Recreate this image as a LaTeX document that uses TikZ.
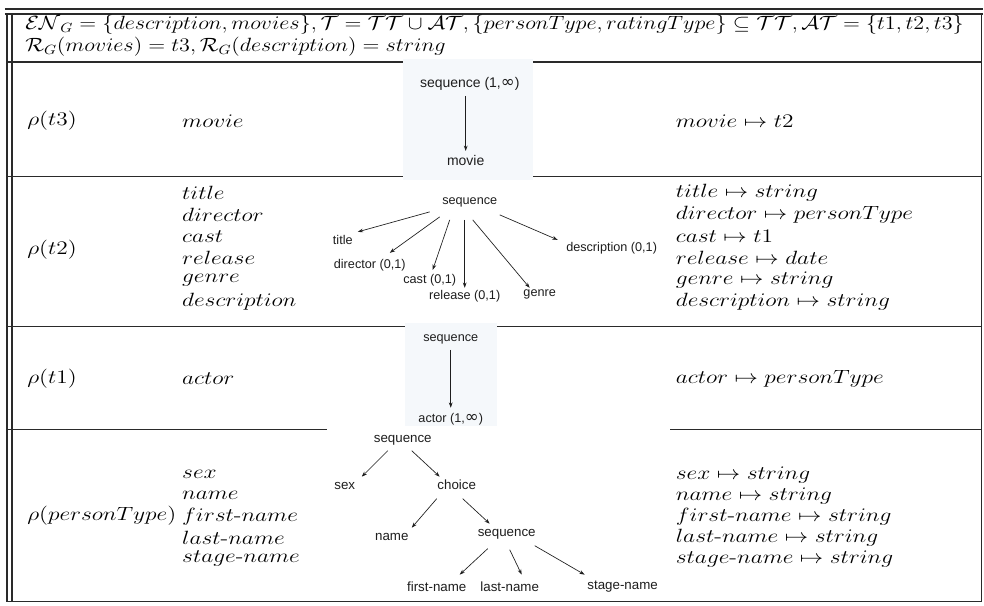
\documentclass[tikz,border=0pt]{standalone}
\usepackage{amsmath,amssymb}
\usepackage[no-math]{fontspec}
\newfontfamily\treefont{Liberation Sans}
\newfontfamily\symfont{DejaVu Sans}
\usetikzlibrary{arrows.meta}
\definecolor{rulec}{HTML}{2A2A2A}
\definecolor{imgbg}{HTML}{F5F8FB}
\definecolor{treetxt}{HTML}{1E1E1E}
\newcommand{\infsym}{{\symfont\fontsize{12.5}{12}\selectfont ∞}}
\begin{document}
\begin{tikzpicture}[x=0.75pt,y=-0.75pt,
  mtx/.style={anchor=west,inner sep=0pt,font=\fontsize{14.4}{17}\selectfont,xscale=1.22},
  htx/.style={anchor=west,inner sep=0pt,font=\fontsize{14.4}{17}\selectfont,xscale=1.155},
  tlab/.style={inner sep=1pt,text=treetxt,font=\treefont\fontsize{9.5}{11}\selectfont},
  tlabbig/.style={tlab,font=\treefont\fontsize{10.5}{12}\selectfont},
  tlabp/.style={tlab,font=\treefont\fontsize{10}{12}\selectfont},
  tarr/.style={draw=treetxt,line width=0.5pt,-{Stealth[length=4pt,width=2.8pt]}},
  rulel/.style={draw=rulec,line width=0.9pt}]
\fill[white] (0,0) rectangle (984,606);
% table rules
\draw[rulel] (5,9) -- (984,9);
\draw[rulel] (5,14) -- (984,14);
\draw[rulel] (7,14) -- (7,602);
\draw[rulel] (12,14) -- (12,602);
\draw[rulel] (982,14) -- (982,602);
\draw[rulel] (7,62) -- (982,62);
\draw[rulel] (7,177) -- (982,177);
\draw[rulel] (7,327) -- (982,327);
\draw[rulel] (7,430) -- (982,430);
\draw[rulel] (7,602) -- (982,602);
% header
\node[htx] (h1) at (25,25) {$\mathcal{EN}_G=\{description,movies\},\mathcal{T}=\mathcal{TT}\cup\mathcal{AT},\{personType,ratingType\}\subseteq\mathcal{TT},\mathcal{AT}=\{t1,t2,t3\}$};
\node[htx] (h2) at (25,47) {$\mathcal{R}_G(movies)=t3,\mathcal{R}_G(description)=string$};
% row t3
\node[mtx] (r3) at (27,121) {$\rho(t3)$};
\node[mtx] (l3) at (182,121) {$movie$};
\node[mtx] (m3) at (676,121) {$movie\mapsto t2$};
\fill[imgbg] (403,59) rectangle (533,180);
\node[tlabbig] (seq3) at (470,84) {sequence (1,\infsym)};
\node[tlabbig] (movie3) at (466,161) {movie};
\draw[tarr] ([shift={(-4,12)}]seq3.center) -- ([shift={(0,-10)}]movie3.center);
% row t2
\node[mtx] (r2) at (27,250) {$\rho(t2)$};
\foreach \t [count=\i from 0] in {title,director,cast,release,genre,description}{
  \node[mtx] (l2\i) at (182,193+21.8*\i) {$\t$};
}
\node[mtx] (m20) at (676,193) {$title\mapsto string$};
\node[mtx] (m21) at (676,214.8) {$director\mapsto personType$};
\node[mtx] (m22) at (676,236.6) {$cast\mapsto t1$};
\node[mtx] (m23) at (676,258.4) {$release\mapsto date$};
\node[mtx] (m24) at (676,280.2) {$genre\mapsto string$};
\node[mtx] (m25) at (676,302) {$description\mapsto string$};
\node[tlab] (seq2) at (470,203) {sequence};
\node[tlab] (title2) at (343,240) {title};
\node[tlab] (dir2) at (370,265) {director (0,1)};
\node[tlab] (cast2) at (430,280) {cast (0,1)};
\node[tlab] (rel2) at (465,296) {release (0,1)};
\node[tlab] (genre2) at (540,295) {genre};
\node[tlab] (desc2) at (612,248) {description (0,1)};
\draw[tarr] ([shift={(-40,9)}]seq2.center) -- ([shift={(15,-8)}]title2.center);
\draw[tarr] ([shift={(-30,14)}]seq2.center) -- ([shift={(20,-12)}]dir2.center);
\draw[tarr] ([shift={(-20,17)}]seq2.center) -- ([shift={(3,-10)}]cast2.center);
\draw[tarr] ([shift={(-5,17)}]seq2.center) -- ([shift={(0,-8)}]rel2.center);
\draw[tarr] ([shift={(3,17)}]seq2.center) -- ([shift={(-10,-7)}]genre2.center);
\draw[tarr] ([shift={(30,12)}]seq2.center) -- ([shift={(-54,-8)}]desc2.center);
% row t1
\node[mtx] (r1) at (27,379) {$\rho(t1)$};
\node[mtx] (l1) at (182,379) {$actor$};
\node[mtx] (m1) at (676,379) {$actor\mapsto personType$};
\fill[imgbg] (405,323) rectangle (497,429);
\node[tlab] (seq1) at (451,340) {sequence};
\node[tlab] (actor1) at (451,419) {actor (1,\infsym)};
\draw[tarr] ([shift={(0,10)}]seq1.center) -- ([shift={(0,-11)}]actor1.center);
% row personType
\fill[white] (327,426) rectangle (670,600);
\node[mtx] (rp) at (27,516) {$\rho(personType)$};
\node[mtx] (lp0) at (182,475) {$sex$};
\node[mtx] (lp1) at (182,496) {$name$};
\node[mtx] (lp2) at (182,517) {$first\text{-}name$};
\node[mtx] (lp3) at (182,538) {$last\text{-}name$};
\node[mtx] (lp4) at (182,559) {$stage\text{-}name$};
\node[mtx] (mp0) at (676,475) {$sex\mapsto string$};
\node[mtx] (mp1) at (676,496) {$name\mapsto string$};
\node[mtx] (mp2) at (676,517) {$first\text{-}name\mapsto string$};
\node[mtx] (mp3) at (676,538) {$last\text{-}name\mapsto string$};
\node[mtx] (mp4) at (676,559) {$stage\text{-}name\mapsto string$};
\node[tlabp] (seqA) at (403,441) {sequence};
\node[tlabp] (sex) at (345,486) {sex};
\node[tlabp] (choice) at (457,485) {choice};
\node[tlabp] (name) at (392,537) {name};
\node[tlabp] (seqC) at (507,535) {sequence};
\node[tlabp] (first) at (437,587) {first-name};
\node[tlabp] (last) at (510,587) {last-name};
\node[tlabp] (stage) at (623,587) {stage-name};
\draw[tarr] ([shift={(-15,10)}]seqA.center) -- ([shift={(17,-9)}]sex.center);
\draw[tarr] ([shift={(9,10)}]seqA.center) -- ([shift={(-17,-8)}]choice.center);
\draw[tarr] ([shift={(-20,14)}]choice.center) -- ([shift={(20,-9)}]name.center);
\draw[tarr] ([shift={(6,14)}]choice.center) -- ([shift={(-17,-11)}]seqC.center);
\draw[tarr] ([shift={(-19,14)}]seqC.center) -- ([shift={(23,-12)}]first.center);
\draw[tarr] ([shift={(3,15)}]seqC.center) -- ([shift={(12,-12)}]last.center);
\draw[tarr] ([shift={(28,11)}]seqC.center) -- ([shift={(-38,-12)}]stage.center);
\end{tikzpicture}
\end{document}
